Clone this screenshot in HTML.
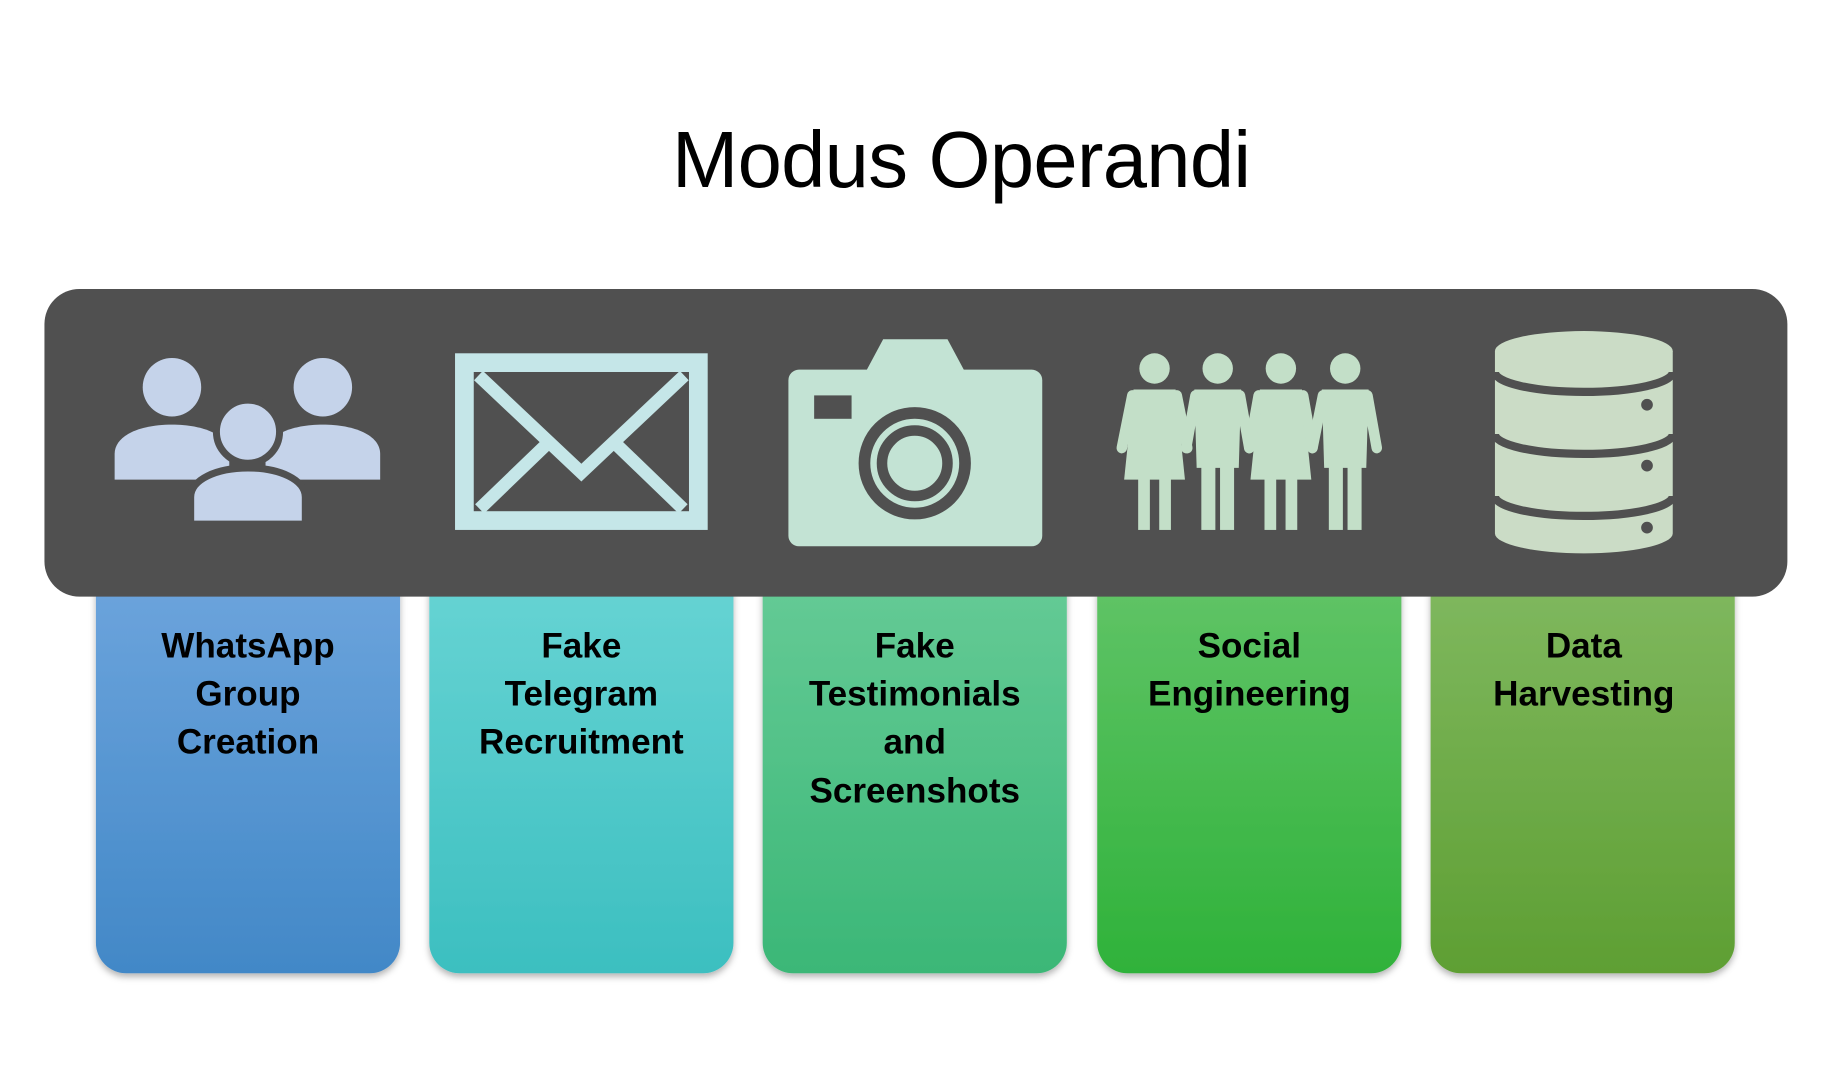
<!DOCTYPE html>
<html><head><meta charset="utf-8"><style>
html,body{margin:0;padding:0;background:#fff;width:1833px;height:1078px;overflow:hidden}
svg{display:block}
</style></head><body>
<svg width="1833" height="1078" viewBox="0 0 1567 921.5" preserveAspectRatio="none" xmlns="http://www.w3.org/2000/svg">
<defs>
<linearGradient id="g1" x1="0" y1="0" x2="0" y2="1"><stop offset="0" stop-color="#6fa6de"/><stop offset="1" stop-color="#4288c7"/></linearGradient>
<linearGradient id="g2" x1="0" y1="0" x2="0" y2="1"><stop offset="0" stop-color="#6ad5d5"/><stop offset="1" stop-color="#3cbfc0"/></linearGradient>
<linearGradient id="g3" x1="0" y1="0" x2="0" y2="1"><stop offset="0" stop-color="#68cc98"/><stop offset="1" stop-color="#3bb777"/></linearGradient>
<linearGradient id="g4" x1="0" y1="0" x2="0" y2="1"><stop offset="0" stop-color="#64c56a"/><stop offset="1" stop-color="#2fb23a"/></linearGradient>
<linearGradient id="g5" x1="0" y1="0" x2="0" y2="1"><stop offset="0" stop-color="#82ba62"/><stop offset="1" stop-color="#5e9f33"/></linearGradient>
<filter id="sh" x="-10%" y="-10%" width="120%" height="120%"><feDropShadow dx="0" dy="3" stdDeviation="3" flood-color="#000" flood-opacity="0.3"/></filter>
</defs>
<text x="822" y="160" font-family="Liberation Sans, sans-serif" font-size="68" text-anchor="middle" textLength="495" fill="#000">Modus Operandi</text>

<g filter="url(#sh)">
<rect x="82" y="470" width="260" height="362" rx="26" fill="url(#g1)"/>
<rect x="367" y="470" width="260" height="362" rx="26" fill="url(#g2)"/>
<rect x="652" y="470" width="260" height="362" rx="26" fill="url(#g3)"/>
<rect x="938" y="470" width="260" height="362" rx="26" fill="url(#g4)"/>
<rect x="1223" y="470" width="260" height="362" rx="26" fill="url(#g5)"/>
</g>
<rect x="38" y="247" width="1490" height="263" rx="30" fill="#505050"/>

<g font-family="Liberation Sans, sans-serif" font-weight="bold" font-size="30" text-anchor="middle" fill="#000">
<text x="212" y="562">WhatsApp</text><text x="212" y="603">Group</text><text x="212" y="644">Creation</text>
<text x="497" y="562">Fake</text><text x="497" y="603">Telegram</text><text x="497" y="644">Recruitment</text>
<text x="782" y="562">Fake</text><text x="782" y="603">Testimonials</text><text x="782" y="644">and</text><text x="782" y="686">Screenshots</text>
<text x="1068" y="562">Social</text><text x="1068" y="603">Engineering</text>
<text x="1354" y="562">Data</text><text x="1354" y="603">Harvesting</text>
</g>

<g fill="#c5d3ea">
<circle cx="147" cy="331" r="25"/><circle cx="276" cy="331" r="25"/>
<path d="M98,410 L98,388 C98,372 120,363 147,363 C174,363 196,372 196,388 L196,410 Z"/>
<path d="M227,410 L227,388 C227,372 249,363 276,363 C303,363 325,372 325,388 L325,410 Z"/>
<path d="M163,448 V425 C163,410 185,400 212,400 C239,400 261,410 261,425 V448 Z" stroke="#505050" stroke-width="6"/>
<circle cx="212" cy="369" r="27" stroke="#505050" stroke-width="6"/>
</g>
<rect x="389" y="302" width="216" height="151" fill="#c5e6e8"/>
<rect x="405" y="318" width="184" height="119" fill="#505050"/>
<g stroke="#c5e6e8" stroke-width="11" fill="none">
<path d="M409,321 L497,404 L585,321"/>
<path d="M410,435 L466,381"/><path d="M584,435 L528,381"/>
</g>
<g fill="#c3e3d4">
<rect x="674" y="316" width="217" height="151" rx="9"/>
<polygon points="740,318 755,290 810,290 825,318"/>
</g>
<rect x="696" y="338" width="32" height="20" fill="#505050"/>
<circle cx="782" cy="396" r="43" fill="none" stroke="#505050" stroke-width="10"/>
<circle cx="782" cy="396" r="28" fill="none" stroke="#505050" stroke-width="9"/>
<g fill="#c3dfc8" stroke="#c3dfc8">
<g stroke="none">
<circle cx="987" cy="315" r="13"/><circle cx="1041" cy="315" r="13"/><circle cx="1095" cy="315" r="13"/><circle cx="1150" cy="315" r="13"/>
<polygon points="969,333 1005,333 1013,410 961,410"/>
<rect x="973" y="405" width="10" height="48"/><rect x="991" y="405" width="10" height="48"/>
<polygon points="1021,333 1061,333 1059,400 1023,400"/>
<rect x="1027" y="395" width="12" height="58"/><rect x="1043" y="395" width="12" height="58"/>
<polygon points="1077,333 1113,333 1121,410 1069,410"/>
<rect x="1081" y="405" width="10" height="48"/><rect x="1099" y="405" width="10" height="48"/>
<polygon points="1130,333 1170,333 1168,400 1132,400"/>
<rect x="1136" y="395" width="12" height="58"/><rect x="1152" y="395" width="12" height="58"/>
</g>
<g stroke-width="9" stroke-linecap="round" fill="none">
<path d="M968,338 L959,383"/><path d="M1006,338 L1015,383"/>
<path d="M1022,338 L1014,383"/><path d="M1060,338 L1068,383"/>
<path d="M1076,338 L1068,383"/><path d="M1114,338 L1122,383"/>
<path d="M1131,338 L1122,383"/><path d="M1169,338 L1177,383"/>
</g>
</g>
<path d="M1278,300 V456 A76,17 0 0 0 1430,456 V300 Z" fill="#cbdcc6"/>
<ellipse cx="1354" cy="300" rx="76" ry="17" fill="#cbdcc6"/>
<g stroke="#505050" stroke-width="7" fill="none">
<path d="M1278,318 A76,17 0 0 0 1430,318"/>
<path d="M1278,371 A76,17 0 0 0 1430,371"/>
<path d="M1278,424 A76,17 0 0 0 1430,424"/>
</g>
<g fill="#505050"><circle cx="1408" cy="346" r="5"/><circle cx="1408" cy="398" r="5"/><circle cx="1408" cy="451" r="5"/></g>
</svg>
</body></html>
